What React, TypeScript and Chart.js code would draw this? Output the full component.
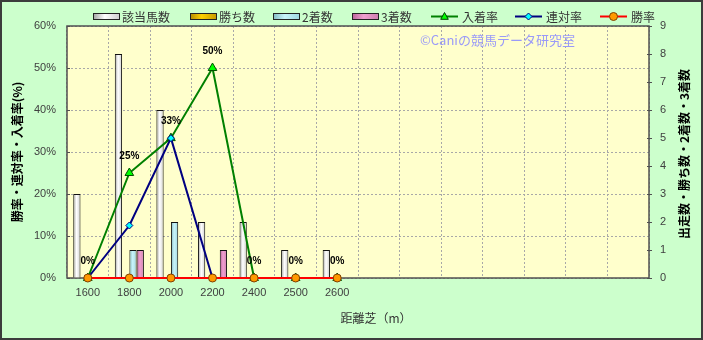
import React, { useEffect, useRef } from 'react';
import { Chart, registerables } from 'chart.js';

Chart.register(...registerables);

// ---- data ----
const categories = ['1600', '1800', '2000', '2200', '2400', '2500', '2600', '', '', '', '', '', '', ''];
const runners = [3, 8, 6, 2, 2, 1, 1];
const wins = [0, 0, 0, 0, 0, 0, 0];
const seconds = [0, 1, 2, 0, 0, 0, 0];
const thirds = [0, 1, 0, 1, 0, 0, 0];
const placeRate = [0, 25, 33.3, 50, 0, 0, 0];
const top2Rate = [0, 12.5, 33.3, 0, 0, 0, 0];
const winRate = [0, 0, 0, 0, 0, 0, 0];
const placeLabels = ['0%', '25%', '33%', '50%', '0%', '0%', '0%'];

const seriesNames = ['該当馬数', '勝ち数', '2着数', '3着数', '入着率', '連対率', '勝率'];
const leftTitle = '勝率・連対率・入着率(%)';
const rightTitle = '出走数・勝ち数・2着数・3着数';
const xTitle = '距離芝（m）';
const watermark = '©Caniの競馬データ研究室';

const CAT_PCT = 0.7;
const CJK = "'Noto Sans CJK JP', sans-serif";
const LAT = "'Liberation Sans', Arial, sans-serif";

const barColors: [string, string, string][] = [
  ['#a0a0a0', '#ffffff', '#d0d0d0'],
  ['#b08800', '#ffd000', '#c89a00'],
  ['#80b8c0', '#c8f4fa', '#a0d8e0'],
  ['#b86098', '#f0a0d0', '#d080b0'],
];

function barFill(k: number) {
  const base = barColors[k];
  return (ctx: any) => {
    const chart = ctx.chart;
    const x = chart.scales && chart.scales.x;
    if (ctx.type !== 'data' || !x) return base[1];
    const w = x.width / categories.length;
    const g = w * CAT_PCT;
    const center = x.getPixelForValue(ctx.dataIndex);
    const left = center - g / 2 + (k * g) / 4;
    const right = left + g / 4;
    if (!isFinite(left) || !isFinite(right)) return base[1];
    const grad = chart.ctx.createLinearGradient(left, 0, right, 0);
    grad.addColorStop(0, base[0]);
    grad.addColorStop(0.45, base[1]);
    grad.addColorStop(1, base[2]);
    return grad;
  };
}

function drawMarker(ctx: CanvasRenderingContext2D, style: string, x: number, y: number, r: number) {
  ctx.beginPath();
  if (style === 'triangle') {
    ctx.moveTo(x, y - r);
    ctx.lineTo(x + r * 0.95, y + r * 0.7);
    ctx.lineTo(x - r * 0.95, y + r * 0.7);
    ctx.closePath();
  } else if (style === 'rectRot') {
    ctx.moveTo(x, y - r);
    ctx.lineTo(x + r, y);
    ctx.lineTo(x, y + r);
    ctx.lineTo(x - r, y);
    ctx.closePath();
  } else {
    ctx.arc(x, y, r, 0, Math.PI * 2);
  }
  ctx.fill();
  ctx.stroke();
}

const decorPlugin = {
  id: 'decor',
  beforeDraw(chart: any) {
    const { ctx, chartArea: a, width, height } = chart;
    ctx.save();
    ctx.fillStyle = '#ccffcc';
    ctx.fillRect(0, 0, width, height);
    ctx.fillStyle = '#ffffcc';
    ctx.fillRect(a.left, a.top, a.right - a.left, a.bottom - a.top);
    ctx.restore();
  },
  beforeDatasetsDraw(chart: any) {
    const { ctx, chartArea: a } = chart;
    ctx.save();
    ctx.setLineDash([]);
    ctx.strokeStyle = '#505050';
    ctx.lineWidth = 1.5;
    ctx.strokeRect(a.left, a.top, a.right - a.left, a.bottom - a.top);
    ctx.lineWidth = 1;
    const y = chart.scales.y;
    for (let v = 0; v <= 60; v += 10) {
      const py = Math.round(y.getPixelForValue(v)) + 0.5;
      ctx.beginPath();
      ctx.moveTo(a.left, py);
      ctx.lineTo(a.left + 3, py);
      ctx.stroke();
    }
    const y1 = chart.scales.y1;
    for (let v = 0; v <= 9; v += 1) {
      const py = Math.round(y1.getPixelForValue(v)) + 0.5;
      ctx.beginPath();
      ctx.moveTo(a.right - 2, py);
      ctx.lineTo(a.right + 3, py);
      ctx.stroke();
    }
    ctx.font = `13px ${CJK}`;
    ctx.fillStyle = '#9a9af8';
    ctx.textAlign = 'left';
    ctx.textBaseline = 'middle';
    ctx.fillText(watermark, 420, 40);
    ctx.restore();
  },
  afterDatasetsDraw(chart: any) {
    const { ctx } = chart;
    const meta = chart.getDatasetMeta(4);
    ctx.save();
    ctx.font = `bold 10px ${LAT}`;
    ctx.fillStyle = '#000';
    ctx.textAlign = 'center';
    ctx.textBaseline = 'middle';
    meta.data.forEach((pt: any, i: number) => {
      if (placeLabels[i] === undefined) return;
      ctx.fillText(placeLabels[i], pt.x, pt.y - 17);
    });
    ctx.restore();
  },
  afterDraw(chart: any) {
    const { ctx, chartArea: a, width, height } = chart;
    ctx.save();
    ctx.fillStyle = '#000';
    ctx.textAlign = 'center';
    ctx.textBaseline = 'middle';
    ctx.font = `bold 12px ${CJK}`;
    ctx.save();
    ctx.translate(17, (a.top + a.bottom) / 2);
    ctx.rotate(-Math.PI / 2);
    ctx.fillText(leftTitle, 0, 0);
    ctx.restore();
    ctx.save();
    ctx.translate(684, (a.top + a.bottom) / 2 + 2);
    ctx.rotate(-Math.PI / 2);
    ctx.fillText(rightTitle, 0, 0);
    ctx.restore();
    ctx.font = `12px ${CJK}`;
    ctx.fillStyle = '#333';
    ctx.fillText(xTitle, 376, 318);

    // legend
    const ly = 16.5;
    ctx.font = `12px ${CJK}`;
    ctx.textAlign = 'left';
    const barX = [93, 190, 273, 352];
    barX.forEach((bx, k) => {
      const c = barColors[k];
      const g = ctx.createLinearGradient(bx, 0, bx + 26, 0);
      g.addColorStop(0, c[0]);
      g.addColorStop(0.45, c[1]);
      g.addColorStop(1, c[2]);
      ctx.fillStyle = g;
      ctx.fillRect(bx, 13, 26, 7);
      ctx.strokeStyle = '#222';
      ctx.lineWidth = 1;
      ctx.strokeRect(bx + 0.5, 13.5, 26, 6);
      ctx.fillStyle = '#333';
      ctx.fillText(seriesNames[k], bx + 29, ly + 0.5);
    });
    const lineItems = [
      { x: 431, color: '#008000', style: 'triangle', fill: '#00ff00', stroke: '#004000', r: 4 },
      { x: 515, color: '#000080', style: 'rectRot', fill: '#00ffff', stroke: '#000080', r: 3.5 },
      { x: 600, color: '#ff0000', style: 'circle', fill: '#ff9900', stroke: '#804000', r: 4 },
    ];
    lineItems.forEach((it, j) => {
      ctx.strokeStyle = it.color;
      ctx.lineWidth = 2;
      ctx.beginPath();
      ctx.moveTo(it.x, ly);
      ctx.lineTo(it.x + 27, ly);
      ctx.stroke();
      ctx.fillStyle = it.fill;
      ctx.strokeStyle = it.stroke;
      ctx.lineWidth = 1;
      drawMarker(ctx, it.style, it.x + 13.5, ly, it.r);
      ctx.fillStyle = '#333';
      ctx.fillText(seriesNames[4 + j], it.x + 31, ly + 0.5);
    });

    ctx.strokeStyle = '#3c3c3c';
    ctx.lineWidth = 2;
    ctx.strokeRect(1, 1, width - 2, height - 2);
    ctx.restore();
  },
};

export default function App() {
  const ref = useRef<HTMLCanvasElement | null>(null);

  useEffect(() => {
    document.body.style.margin = '0';
    const canvas = ref.current;
    if (!canvas) return;
    const barDs = (label: string, data: number[], k: number) => ({
      type: 'bar' as const,
      label,
      data,
      yAxisID: 'y1',
      backgroundColor: barFill(k),
      borderColor: '#111',
      borderWidth: 1,
      barPercentage: 1,
      categoryPercentage: CAT_PCT,
      order: 3 + k,
    });
    const lineDs = (
      label: string,
      data: number[],
      color: string,
      style: string,
      fill: string,
      stroke: string,
      r: number,
      order: number
    ) => ({
      type: 'line' as const,
      label,
      data,
      yAxisID: 'y',
      borderColor: color,
      borderWidth: 2,
      pointStyle: style,
      pointRadius: r,
      pointBackgroundColor: fill,
      pointBorderColor: stroke,
      pointBorderWidth: 1,
      tension: 0,
      fill: false,
      clip: false as any,
      order,
    });

    const chart = new Chart(canvas, {
      data: {
        labels: categories,
        datasets: [
          barDs(seriesNames[0], runners, 0),
          barDs(seriesNames[1], wins, 1),
          barDs(seriesNames[2], seconds, 2),
          barDs(seriesNames[3], thirds, 3),
          lineDs(seriesNames[4], placeRate, '#008000', 'triangle', '#00ff00', '#005000', 5, 2),
          lineDs(seriesNames[5], top2Rate, '#000080', 'rectRot', '#00ffff', '#000080', 3.5, 1),
          lineDs(seriesNames[6], winRate, '#ff0000', 'circle', '#ff9900', '#804000', 4, 0),
        ] as any,
      },
      plugins: [decorPlugin],
      options: {
        responsive: false,
        animation: false,
        devicePixelRatio: 1,
        layout: { padding: { top: 26, left: 0, right: 0, bottom: 0 } },
        plugins: {
          legend: { display: false },
          tooltip: { enabled: false },
          title: { display: false },
        },
        scales: {
          x: {
            type: 'category',
            offset: true,
            grid: { offset: true, color: '#a8a8a8', drawTicks: false, lineWidth: 1 },
            border: { display: false, dash: [2, 2] },
            ticks: {
              color: '#404040',
              font: { family: LAT, size: 11 },
              padding: 8,
              maxRotation: 0,
              autoSkip: false,
            },
            afterFit: (s: any) => {
              s.height = 62;
            },
          },
          y: {
            position: 'left',
            min: 0,
            max: 60,
            grid: { color: '#a8a8a8', drawTicks: false, lineWidth: 1 },
            border: { display: false, dash: [2, 2] },
            ticks: {
              stepSize: 10,
              color: '#404040',
              font: { family: LAT, size: 11 },
              padding: 11,
              callback: (v: any) => v + '%',
            },
            afterFit: (s: any) => {
              s.width = 67;
            },
          },
          y1: {
            position: 'right',
            min: 0,
            max: 9,
            grid: { drawOnChartArea: false, drawTicks: false },
            border: { display: false },
            ticks: {
              stepSize: 1,
              color: '#404040',
              font: { family: LAT, size: 11 },
              padding: 11,
            },
            afterFit: (s: any) => {
              s.width = 54;
            },
          },
        },
      } as any,
    });
    return () => chart.destroy();
  }, []);

  return (
    <div style={{ width: 703, height: 340 }}>
      <canvas ref={ref} width={703} height={340} style={{ display: 'block', width: 703, height: 340 }} />
    </div>
  );
}
